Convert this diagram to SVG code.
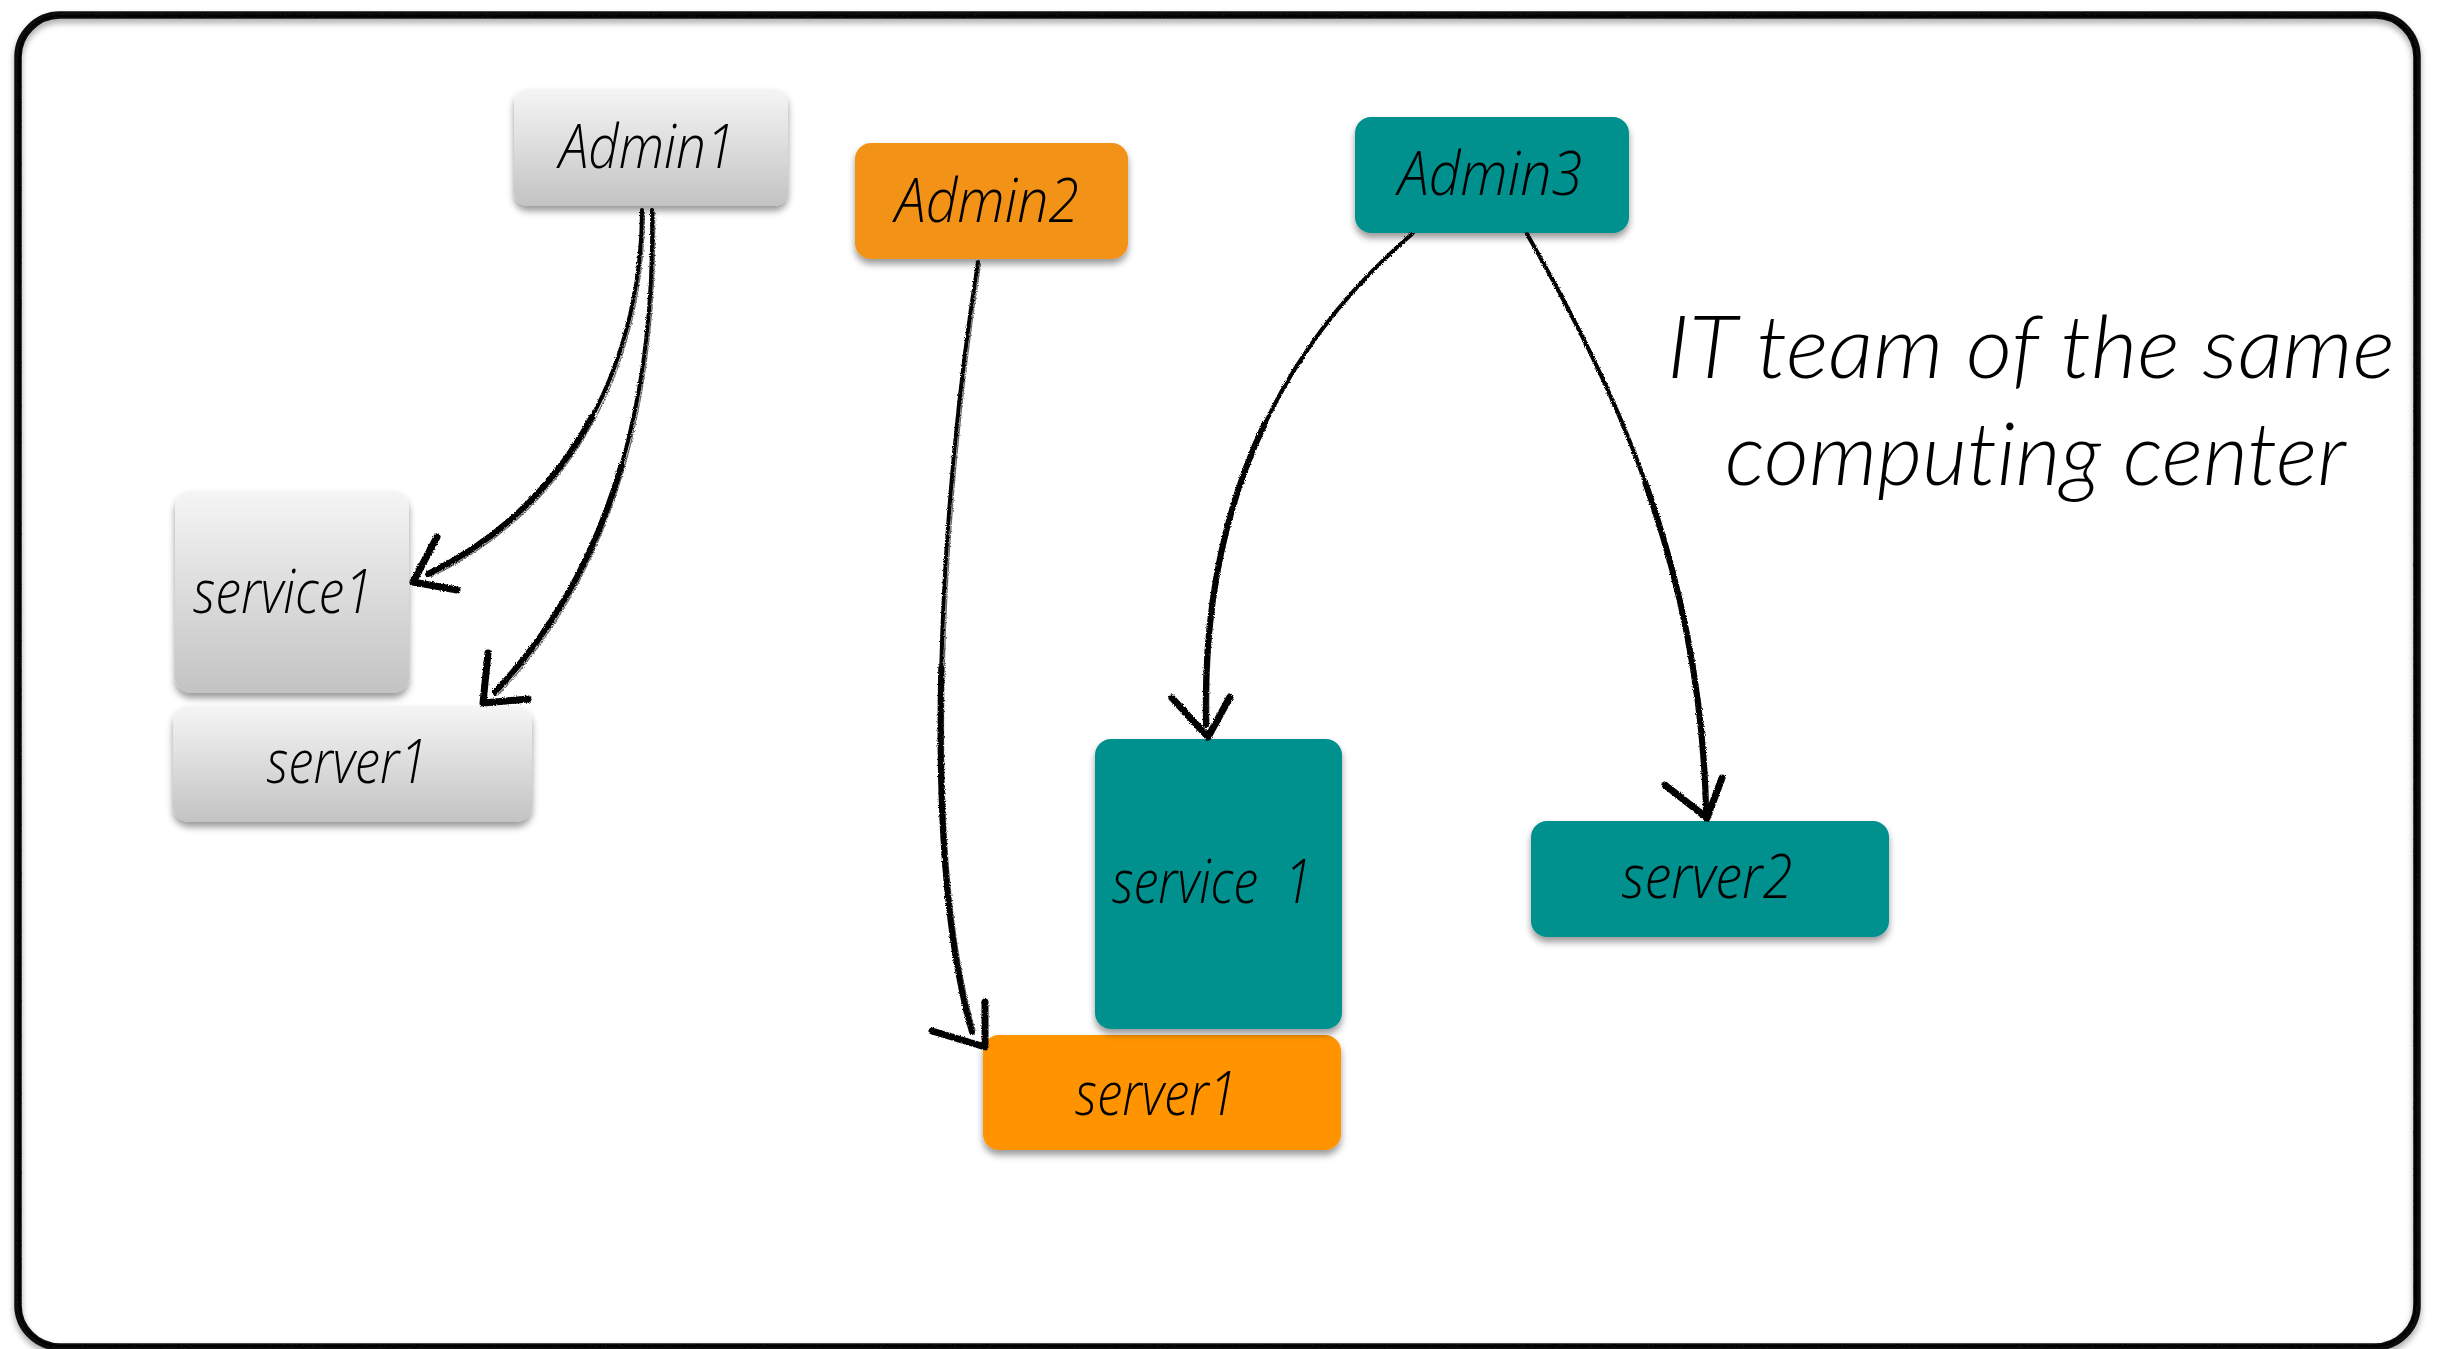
<svg xmlns="http://www.w3.org/2000/svg" width="2443" height="1349" viewBox="0 0 2443 1349">
  <defs>
    <linearGradient id="gray" x1="0" y1="0" x2="0" y2="1">
      <stop offset="0" stop-color="#f5f5f5"/>
      <stop offset="1" stop-color="#c3c3c3"/>
    </linearGradient>
    <filter id="shadow" x="-10%" y="-10%" width="120%" height="130%">
      <feDropShadow dx="0" dy="5" stdDeviation="3.5" flood-color="#000" flood-opacity="0.4"/>
    </filter>
    <filter id="frameShadow" x="-2%" y="-2%" width="104%" height="104%">
      <feDropShadow dx="0" dy="4" stdDeviation="3" flood-color="#000" flood-opacity="0.35"/>
    </filter>
    <filter id="rough" x="-10%" y="-10%" width="120%" height="120%">
      <feTurbulence type="fractalNoise" baseFrequency="0.9" numOctaves="2" seed="3" result="n"/>
      <feDisplacementMap in="SourceGraphic" in2="n" scale="3" xChannelSelector="R" yChannelSelector="G"/>
    </filter>
    <style>
      .box { filter: url(#shadow); }
      .gray { fill: url(#gray); }
      .orange1 { fill: #f29219; }
      .orange2 { fill: #ff9400; }
      .teal { fill: #00918f; }
      .label { font-family: "Open Sans", Lato, "Liberation Sans", sans-serif; font-style: italic; font-weight: 300; font-size: 60px; fill: #000; text-anchor: middle; }
      .title { font-family: Lato, "Open Sans", "Liberation Sans", sans-serif; font-style: italic; font-weight: 300; font-size: 86px; fill: #000; font-variant-ligatures: none; }
      .ink { fill: none; stroke: #000; stroke-width: 4; stroke-linecap: round; stroke-linejoin: round; }
      .heavy { fill: none; stroke: #000; stroke-width: 6; stroke-linecap: round; }
      .ink2 { fill: none; stroke: #000; stroke-width: 1.3; stroke-linecap: round; opacity: 0.6; }
      .head { fill: none; stroke: #000; stroke-width: 7; stroke-linecap: round; stroke-linejoin: round; }
    </style>
  </defs>

  <rect width="2443" height="1349" fill="#fff"/>

  <!-- hand-drawn frame -->
  <g id="frame" filter="url(#frameShadow)">
    <rect x="18" y="15" width="2399" height="1332" rx="42" fill="none" stroke="#0a0a0a" stroke-width="7.5"/>
    <rect x="19.5" y="16" width="2396" height="1330" rx="40" fill="none" stroke="#000" stroke-width="2" opacity="0.6" filter="url(#rough)"/>
  </g>

  <!-- left team -->
  <g id="admin1">
    <rect class="box gray" x="514" y="89" width="274" height="117" rx="14"/>
    <text class="label" x="647" y="168" textLength="176" lengthAdjust="spacingAndGlyphs">Admin1</text>
  </g>
  <g id="service1-left">
    <rect class="box gray" x="175" y="491" width="234" height="202" rx="16"/>
    <text class="label" x="283" y="613" textLength="180" lengthAdjust="spacingAndGlyphs">service1</text>
  </g>
  <g id="server1-left">
    <rect class="box gray" x="173" y="706" width="359" height="116" rx="16"/>
    <text class="label" x="347" y="783" textLength="161" lengthAdjust="spacingAndGlyphs">server1</text>
  </g>

  <!-- middle team -->
  <g id="admin2">
    <rect class="box orange1" x="855" y="143" width="273" height="116" rx="16"/>
    <text class="label" x="987" y="222" textLength="184" lengthAdjust="spacingAndGlyphs">Admin2</text>
  </g>
  <g id="server1-mid">
    <rect class="box orange2" x="983" y="1035" width="358" height="115" rx="16"/>
    <text class="label" x="1156" y="1115" textLength="162" lengthAdjust="spacingAndGlyphs">server1</text>
  </g>

  <!-- right team -->
  <g id="admin3">
    <rect class="box teal" x="1355" y="117" width="274" height="116" rx="16"/>
    <text class="label" x="1490" y="195" textLength="184" lengthAdjust="spacingAndGlyphs">Admin3</text>
  </g>
  <g id="service1-right">
    <rect class="box teal" x="1095" y="739" width="247" height="290" rx="16"/>
    <text class="label" x="1212" y="903" textLength="200" lengthAdjust="spacingAndGlyphs" xml:space="preserve">service  1</text>
  </g>
  <g id="server2">
    <rect class="box teal" x="1531" y="821" width="358" height="116" rx="16"/>
    <text class="label" x="1707" y="898" textLength="171" lengthAdjust="spacingAndGlyphs">server2</text>
  </g>

  <!-- caption -->
  <g id="caption">
    <text class="title" x="1667" y="378" textLength="728" lengthAdjust="spacingAndGlyphs">IT team of the same</text>
    <text class="title" x="1725" y="485" textLength="621" lengthAdjust="spacingAndGlyphs">computing center</text>
  </g>

  <!-- sketched connectors: each curve gets a heavier second half that follows it exactly -->
  <g id="connectors" filter="url(#rough)">
    <!-- Admin1 -> service1 -->
    <path class="ink" d="M642,210 C642,350 580,500 428,574"/>
    <path class="heavy" d="M592,416.75 C557.5,481 504,537 428,574"/>
    <path class="ink2" d="M644.5,212 C644.5,352 583,503 431,577"/>
    <path class="head" d="M437,537 L413,582 L457,590"/>
    <!-- Admin1 -> server1 -->
    <path class="ink" d="M652,210 C655,380 620,560 495,692"/>
    <path class="heavy" d="M621.5,465.25 C597.5,548 557.5,626 495,692"/>
    <path class="ink2" d="M654.5,212 C657.5,382 623,563 498,695"/>
    <path class="head" d="M488,653 L483,703 L528,699"/>
    <!-- Admin2 -> server1 -->
    <path class="ink" d="M978,262 C940,500 920,850 972,1032"/>
    <path class="heavy" d="M941.25,668 C938,808 946,941 972,1032"/>
    <path class="ink2" d="M980.5,264 C943,502 923,850 975,1030"/>
    <path class="head" d="M932,1031 L985,1047 L985,1002"/>
    <!-- Admin3 -> service 1 -->
    <path class="ink" d="M1412,234 C1300,330 1200,480 1206,725"/>
    <path class="heavy" d="M1264.75,423.6 C1226.5,503.75 1203,602.5 1206,725"/>
    <path class="ink2" d="M1409.5,237 C1298,334 1203,484 1209,723"/>
    <path class="head" d="M1172,698 L1208,737 L1230,697"/>
    <!-- Admin3 -> server2 -->
    <path class="ink" d="M1527,234 C1610,380 1700,560 1706,810"/>
    <path class="heavy" d="M1645.4,483 C1679,577.5 1703,685 1706,810"/>
    <path class="ink2" d="M1529.5,236 C1612.5,382 1702.5,562 1708.5,808"/>
    <path class="head" d="M1665,785 L1707,818 L1722,778"/>
  </g>
</svg>
